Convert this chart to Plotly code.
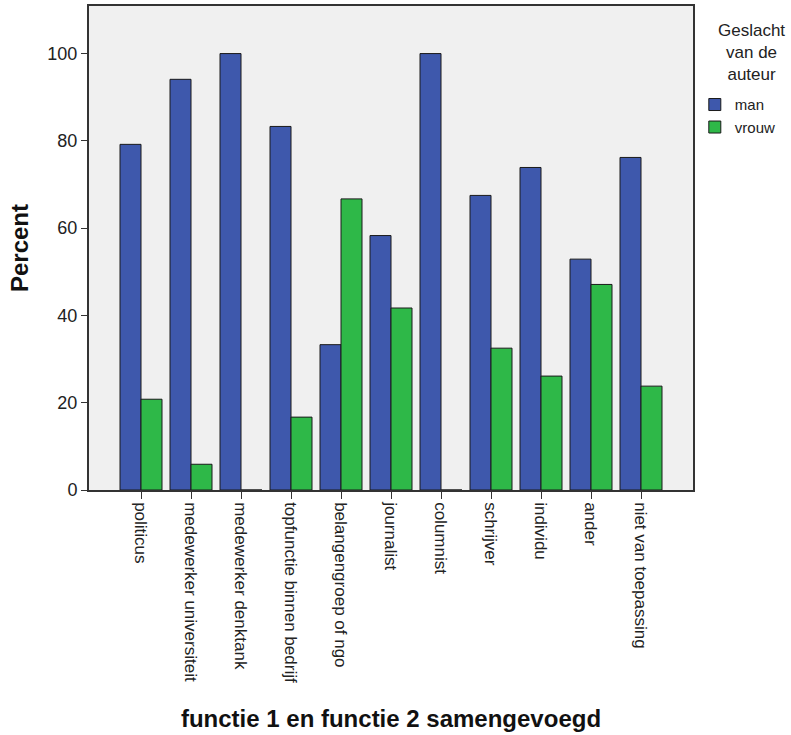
import plotly.graph_objects as go

categories = ["politicus", "medewerker universiteit", "medewerker denktank",
              "topfunctie binnen bedrijf", "belangengroep of ngo", "journalist",
              "columnist", "schrijver", "individu", "ander", "niet van toepassing"]
man = [79.2, 94.1, 100.0, 83.3, 33.3, 58.3, 100.0, 67.5, 73.9, 52.9, 76.2]
vrouw = [20.8, 5.9, 0.0, 16.7, 66.7, 41.7, 0.0, 32.5, 26.1, 47.1, 23.8]
y_ticks = [0, 20, 40, 60, 80, 100]

FONT = "Liberation Sans, Arial, sans-serif"
x_idx = list(range(len(categories)))

fig = go.Figure()
fig.add_trace(go.Bar(x=x_idx, y=man, name="man",
                     marker=dict(color="#3E58AC", line=dict(color="#1a1a1a", width=1))))
fig.add_trace(go.Bar(x=x_idx, y=vrouw, name="vrouw",
                     marker=dict(color="#2EB848", line=dict(color="#1a1a1a", width=1))))

fig.update_layout(
    width=791, height=735,
    barmode="group", bargap=0.16, bargroupgap=0,
    plot_bgcolor="#F0F0F0", paper_bgcolor="white",
    margin=dict(l=89, r=98, t=6, b=245, autoexpand=False),
    font=dict(family=FONT, color="#222222", size=15),
    legend=dict(
        x=1.003, xanchor="left", y=0.83, yanchor="top",
        font=dict(size=15), bgcolor="rgba(0,0,0,0)",
    ),
    showlegend=True,
)

# legend title, centred above the entries like the original
fig.add_annotation(
    text="Geslacht<br>van de<br>auteur", xref="paper", yref="paper",
    x=1.097, y=0.973, xanchor="center", yanchor="top", align="center",
    showarrow=False, font=dict(size=17, color="#222222"),
)

fig.update_xaxes(
    range=[-1.04, 10 + 1.04], automargin=False,
    tickmode="array", tickvals=x_idx, ticktext=categories,
    tickangle=90, ticks="outside", ticklen=7, tickcolor="#333333",
    tickfont=dict(size=17, color="#222222"),
    showline=True, linecolor="#333333", linewidth=1.5, mirror=True,
    showgrid=False, zeroline=False,
    title=dict(text="<b>functie 1 en functie 2 samengevoegd</b>",
               font=dict(size=24, color="#111111"), standoff=28),
)
fig.update_yaxes(
    range=[0, 110.9], automargin=False,
    tickmode="array", tickvals=y_ticks,
    ticks="outside", ticklen=6, tickcolor="#333333",
    tickfont=dict(size=18, color="#222222"),
    showline=True, linecolor="#333333", linewidth=2, mirror=True,
    showgrid=False, zeroline=False,
    title=dict(text="<b>Percent</b>", font=dict(size=24, color="#111111"), standoff=12),
)

# drop the default page margin so the figure sits at the window's corner
fig.write_html("out.html", config={"displayModeBar": False},
               post_script="document.body.style.margin='0';")
